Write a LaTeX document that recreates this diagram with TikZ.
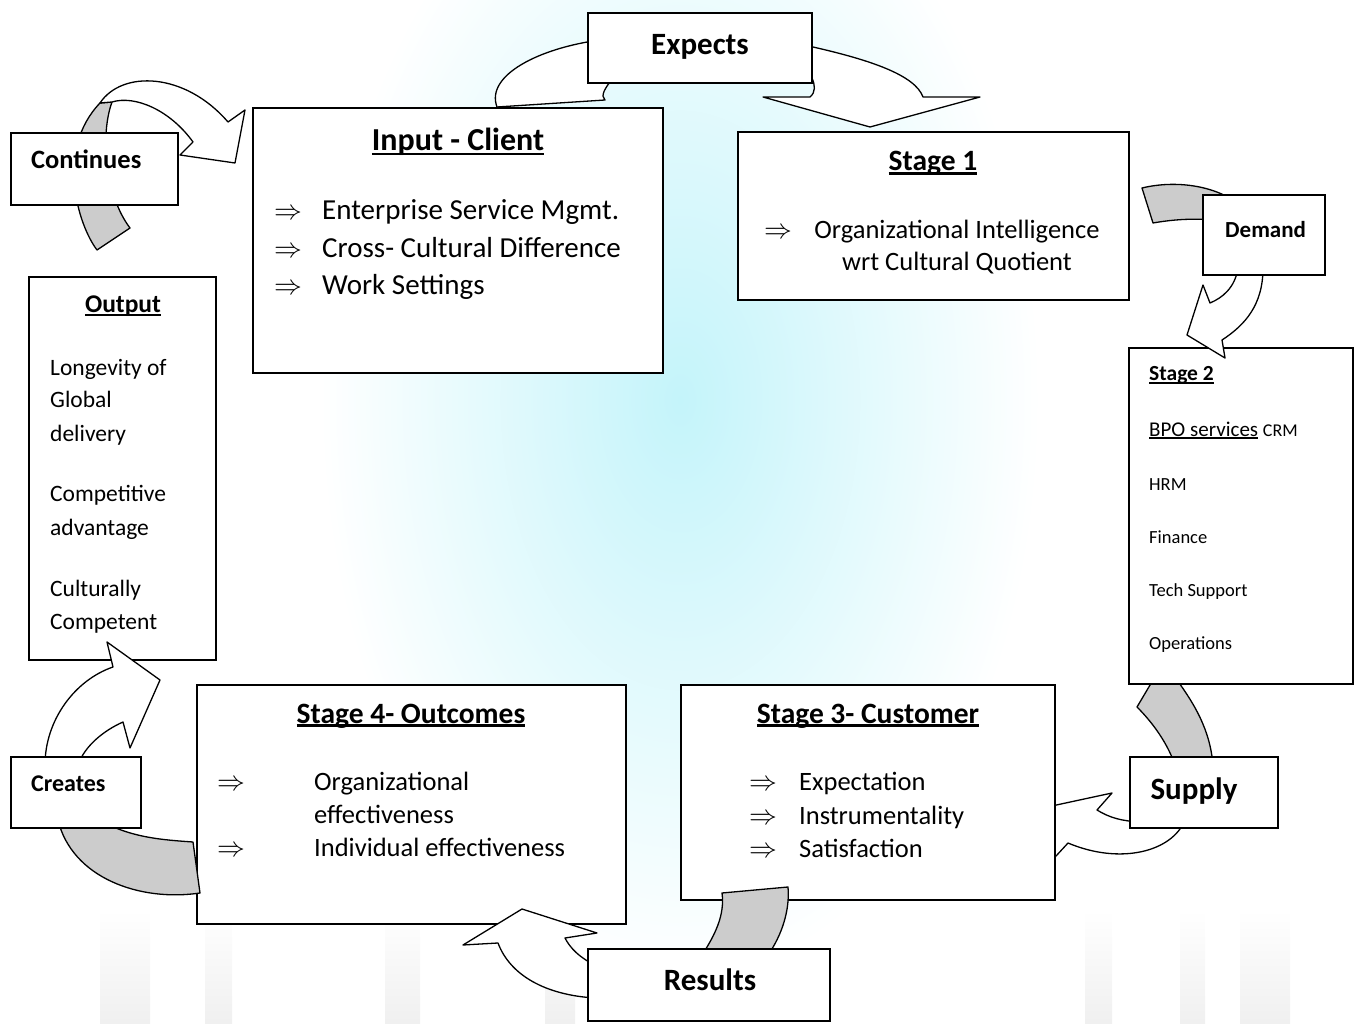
\documentclass[tikz,border=0pt]{standalone}
\usepackage{fontspec}
\setmainfont{Carlito}
\newcommand{\fsz}[1]{\fontsize{#1}{#1}\selectfont}
\newcommand{\undl}[1]{\setbox0=\hbox{#1}\rlap{\rule[-0.12em]{\wd0}{0.07em}}\box0\relax}
\newcommand{\dimp}{\scalebox{1.12}{$\Rightarrow$}}
\definecolor{glow}{RGB}{196,244,250}
\tikzset{
	box/.style={draw, fill=white, line width=1.8pt, inner sep=0pt},
	band/.style={draw, fill=white, line width=1.3pt, line join=round},
	backband/.style={band, fill=gray!40},
	txt/.style={anchor=base west, inner sep=0pt},
	ctxt/.style={anchor=base, inner sep=0pt},
}
\begin{document}
\begin{tikzpicture}[x=1pt, y=-1pt]
	\useasboundingbox (0,0) rectangle (1358,1024);

	% faint backdrop
	\begin{scope}
		\clip (0,0) rectangle (1358,1024);
		\shade[inner color=glow, outer color=white] (680,400) ellipse (360 and 580);
		\foreach \xa/\xb in {100/150, 205/232, 385/420, 545/575, 1085/1112, 1180/1205, 1240/1290}
			\shade[top color=white, bottom color=gray!12] (\xa,910) rectangle (\xb,1024);
	\end{scope}

	% supply: stage 2 -> stage 3
	\draw[backband] (1153,680) -- (1137,707) .. controls (1155,725) and (1168,745) .. (1175,765) -- (1213,765) .. controls (1210,730) and (1195,705) .. (1177,680) -- cycle;
	\draw[band] (1185,820) .. controls (1172,852) and (1120,865) .. (1068,843) -- (1045,868) -- (1010,815) -- (1112,793) -- (1097,810) .. controls (1110,818) and (1122,821) .. (1140,822) -- cycle;

	% expects: input -> stage 1
	\draw[band] (497,107) .. controls (485,75) and (540,48) .. (600,40) .. controls (680,30) and (780,35) .. (813,47) .. controls (870,60) and (915,75) .. (923,97) -- (980,97) -- (870,127) -- (763,97) -- (810,97) .. controls (816,92) and (815,85) .. (812,78) -- (613,78) .. controls (605,88) and (600,96) .. (605,100) -- cycle;

	% continues: output -> input
	\draw[backband] (97,250) .. controls (78,225) and (55,150) .. (100,103) -- (112,102) .. controls (100,135) and (105,195) .. (130,228) -- cycle;
	\draw[band] (100,103) .. controls (122,70) and (185,72) .. (228,122) -- (245,110) -- (235,163) -- (180,155) -- (193,142) .. controls (170,110) and (135,95) .. (112,102) -- cycle;

	% main boxes
	\node[box, minimum width=187, minimum height=383] (output) at (122.5,468.5) {};
	\node[box, minimum width=410, minimum height=265] (input) at (458,240.5) {};
	\node[box, minimum width=391, minimum height=168] (stageone) at (933.5,216) {};
	\node[box, minimum width=224, minimum height=336] (stagetwo) at (1241,516) {};
	\node[box, minimum width=374, minimum height=215] (stagethree) at (868,792.5) {};
	\node[box, minimum width=429, minimum height=239] (stagefour) at (411.5,804.5) {};

	% creates: stage 4 -> output
	\draw[backband] (193,842) -- (200,893) .. controls (140,902) and (72,878) .. (58,820) -- (100,820) .. controls (130,838) and (165,840) .. (193,842) -- cycle;
	\draw[band] (45,765) .. controls (45,720) and (75,680) .. (113,667) -- (107,642) -- (160,680) -- (130,748) -- (123,722) .. controls (105,730) and (85,745) .. (78,765) -- cycle;

	% demand: stage 1 -> stage 2
	\draw[backband] (1142,188) .. controls (1175,180) and (1215,185) .. (1240,205) -- (1240,225) -- (1215,220) .. controls (1190,218) and (1170,220) .. (1153,223) -- cycle;
	\draw[band] (1238,268) .. controls (1235,288) and (1222,298) .. (1210,303) -- (1203,285) -- (1187,335) -- (1225,358) -- (1222,340) .. controls (1245,325) and (1263,305) .. (1263,268) -- cycle;

	% results: stage 3 -> stage 4
	\draw[backband] (722,893) -- (788,887) .. controls (790,910) and (782,935) .. (768,955) -- (702,955) .. controls (715,935) and (725,915) .. (722,893) -- cycle;
	\draw[band] (595,965) .. controls (580,958) and (570,948) .. (565,938) -- (597,933) -- (522,909) -- (463,945) -- (498,943) .. controls (510,975) and (545,995) .. (595,998) -- cycle;

	% label boxes on the arrows
	\node[box, minimum width=224, minimum height=70] (expects) at (700,48) {};
	\node[box, minimum width=167, minimum height=72] (continues) at (94.5,169) {};
	\node[box, minimum width=122, minimum height=80] (demand) at (1264,235) {};
	\node[box, minimum width=148, minimum height=71] (supply) at (1204,792.5) {};
	\node[box, minimum width=242, minimum height=72] (results) at (709,985) {};
	\node[box, minimum width=130, minimum height=71] (creates) at (76,792.5) {};

	% labels
	\node[ctxt, font=\fsz{31}\bfseries] (expects-t) at (700,55) {Expects};
	\node[txt, font=\fsz{26.5}\bfseries] (continues-t) at (31,169) {Continues};
	\node[txt, font=\fsz{23}\bfseries] (demand-t) at (1225,238) {Demand};
	\node[ctxt, font=\fsz{31}\bfseries] (supply-t) at (1194,799) {Supply};
	\node[ctxt, font=\fsz{31}\bfseries] (results-t) at (710,990) {Results};
	\node[txt, font=\fsz{24}\bfseries] (creates-t) at (31,791) {Creates};

	% input - client
	\node[ctxt, font=\fsz{32}\bfseries] (input-h) at (458,151) {\undl{Input - Client}};
	\foreach \yy/\tt [count=\i] in {220/Enterprise Service Mgmt., 258/Cross- Cultural Difference, 295/Work Settings} {
		\node[txt, font=\fsz{29}] (input-a\i) at (274,\yy) {\dimp};
		\node[txt, font=\fsz{29}] (input-\i) at (322,\yy) {\tt};
	}

	% stage 1
	\node[ctxt, font=\fsz{29.5}\bfseries] (stageone-h) at (933,171) {\undl{Stage 1}};
	\node[txt, font=\fsz{26.5}] (stageone-a) at (764,238.5) {\dimp};
	\node[ctxt, font=\fsz{26.5}] (stageone-1) at (957,238.5) {Organizational Intelligence};
	\node[ctxt, font=\fsz{26.5}] (stageone-2) at (957,271) {wrt Cultural Quotient};

	% stage 2
	\node[txt, font=\fsz{21.5}\bfseries] (stagetwo-h) at (1149,381) {\undl{Stage 2}};
	\node[txt, font=\fsz{21}] (stagetwo-1) at (1149,436) {\undl{BPO services} {\fsz{18}CRM}};
	\foreach \yy/\tt [count=\i from 2] in {490/HRM, 543/Finance, 596/Tech Support, 649/Operations}
		\node[txt, font=\fsz{18.5}] (stagetwo-\i) at (1149,\yy) {\tt};

	% stage 3
	\node[ctxt, font=\fsz{29.5}\bfseries] (stagethree-h) at (868,723) {\undl{Stage 3- Customer}};
	\foreach \yy/\tt [count=\i] in {790.5/Expectation, 824.5/Instrumentality, 857.5/Satisfaction} {
		\node[txt, font=\fsz{26.5}] (stagethree-a\i) at (749,\yy) {\dimp};
		\node[txt, font=\fsz{26.5}] (stagethree-\i) at (799,\yy) {\tt};
	}

	% stage 4
	\node[ctxt, font=\fsz{29.5}\bfseries] (stagefour-h) at (411,723) {\undl{Stage 4- Outcomes}};
	\node[txt, font=\fsz{26.5}] (stagefour-a1) at (217,790.5) {\dimp};
	\node[txt, font=\fsz{26.5}] (stagefour-a2) at (217,856.5) {\dimp};
	\node[txt, font=\fsz{26.5}] (stagefour-1) at (314,790.5) {Organizational};
	\node[txt, font=\fsz{26.5}] (stagefour-2) at (314,823.5) {effectiveness};
	\node[txt, font=\fsz{26.5}] (stagefour-3) at (314,856.5) {Individual effectiveness};

	% output
	\node[ctxt, font=\fsz{25.5}\bfseries] (output-h) at (123,313) {\undl{Output}};
	\foreach \yy/\tt [count=\i] in {375.5/Longevity of, 407.5/Global, 441.5/delivery, 501.5/Competitive, 535.5/advantage, 596.5/Culturally, 629.5/Competent}
		\node[txt, font=\fsz{23.5}] (output-\i) at (50,\yy) {\tt};
\end{tikzpicture}
\end{document}
